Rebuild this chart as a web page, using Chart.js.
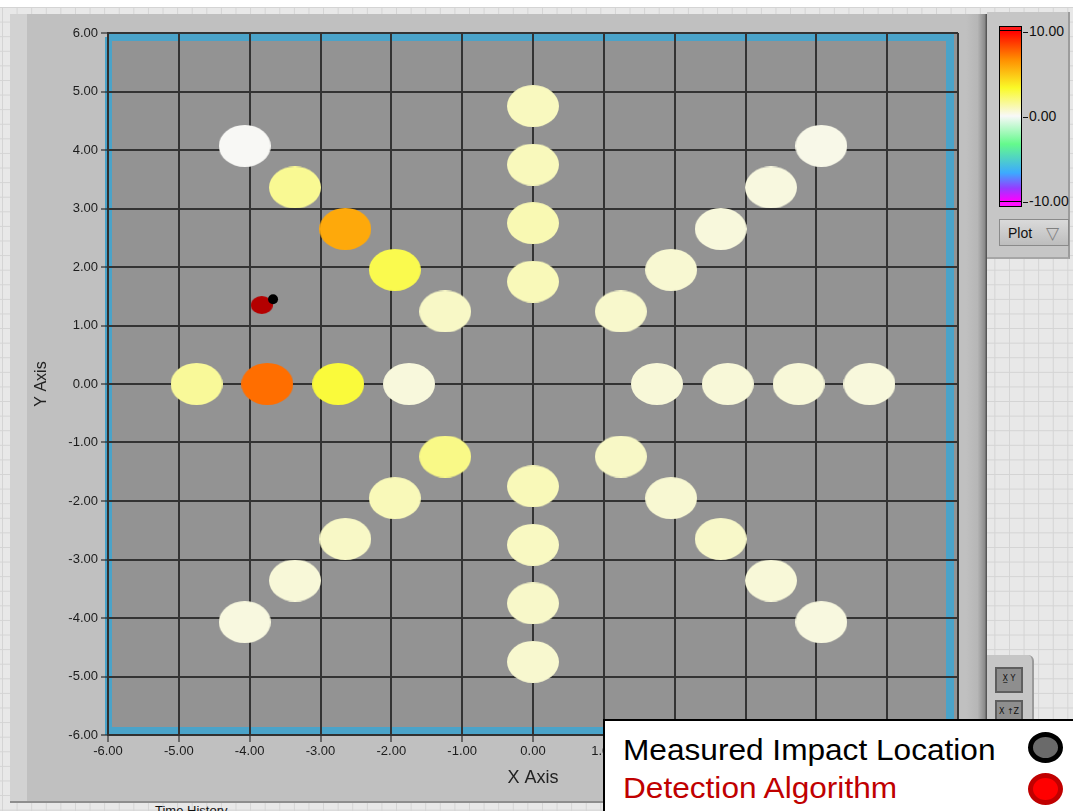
<!DOCTYPE html>
<html>
<head>
<meta charset="utf-8">
<title>Impact location</title>
<script src="https://cdn.jsdelivr.net/npm/chart.js@4.4.1/dist/chart.umd.min.js"></script>
<style>
  html, body { margin: 0; padding: 0; }
  body {
    position: relative; width: 1073px; height: 811px; overflow: hidden;
    background-color: #e8e8e8;
    background-image: linear-gradient(#d4d4d4 1px, transparent 1px),
                      linear-gradient(90deg, #d4d4d4 1px, transparent 1px);
    background-size: 14.6px 14.6px;
    background-position: 2px 7px;
    font-family: "Liberation Sans", Arial, sans-serif;
  }
  .abs { position: absolute; }
  #topWhite { left: 0; top: 0; width: 1073px; height: 7px; background: #fff; }
  #panel { left: 10px; top: 14px; width: 976px; height: 789px; background: #c0c0c0;
           border-bottom: 2px solid #8e8e8e; box-sizing: border-box; }
  #panelStrip { left: 10px; top: 14px; width: 17px; height: 787px; background: #d2d2d2; }
  #panelEdge { left: 966px; top: 14px; width: 21px; height: 789px;
               background: linear-gradient(90deg, #c0c0c0 0%, #b6b6b6 55%, #8c8c8c 88%, #4a4a4a 100%); }
  #scalePanel { left: 987px; top: 12px; width: 83px; height: 247px; background: #c6c6c6;
                border-right: 2px solid #9c9c9c; border-bottom: 2px solid #a6a6a6; box-sizing: border-box; }
  #bar { left: 999px; top: 26px; width: 23px; height: 181px; border: 1px solid #000; box-sizing: border-box; }
  .barLbl { position: absolute; left: 1023px; font-size: 14px; color: #111; line-height: 16px; white-space: nowrap; }
  .barLbl i { display: inline-block; width: 5px; height: 1px; background: #111; vertical-align: middle; margin-right: 1px; }
  #plotBtn { left: 999px; top: 219px; width: 70px; height: 27px; box-sizing: border-box;
             background: linear-gradient(#dadada, #bdbdbd); border: 1px solid #8a8a8a; }
  #plotBtn span { position: absolute; left: 8px; top: 5px; font-size: 14px; color: #111; }
  #plotBtn b { position: absolute; left: 46px; top: 3px; font: 17px "DejaVu Sans"; color: #808080; }
  #btnPanel { left: 987px; top: 655px; width: 47px; height: 70px; background: #c6c6c6;
              border-top-right-radius: 6px; border-right: 2px solid #9a9a9a; box-sizing: border-box; }
  .tool { position: absolute; left: 995px; width: 28px; height: 26px; box-sizing: border-box;
          background: #8e8e8e; border: 2px solid #5e5e5e; font: 8px "DejaVu Sans"; color: #111;
          text-align: center; line-height: 20px; }
  #chartBox { left: 0; top: 0; width: 1073px; height: 811px; }
  #legend { left: 603px; top: 719px; width: 470px; height: 92px; background: #fff;
            border-left: 2px solid #000; border-top: 2px solid #000; box-sizing: border-box; }
  .lgText { position: absolute; left: 18px; font-size: 29px; line-height: 29px; white-space: nowrap;
            transform: scaleX(1.09); transform-origin: 0 0; }
  .lgDot { position: absolute; left: 423px; width: 35px; height: 31px; border-radius: 50%;
           border: 5px solid #000; box-sizing: border-box; }
  #timeLbl { left: 155px; top: 803px; font-size: 13px; color: #111; }
</style>
</head>
<body>
<div id="topWhite" class="abs"></div>
<div id="panel" class="abs"></div>
<div id="panelStrip" class="abs"></div>
<div id="panelEdge" class="abs"></div>
<div id="scalePanel" class="abs"></div>
<div id="bar" class="abs"></div>
<div id="barLabels"></div>
<div id="plotBtn" class="abs"><span>Plot</span><b>▽</b></div>
<div id="btnPanel" class="abs"></div>
<div class="tool" style="top:667px">X&#x0332; Y<br></div>
<div class="tool" style="top:700px;height:22px">X ↑Z</div>
<div id="timeLbl" class="abs">Time History</div>
<div id="chartBox" class="abs"><canvas id="c" width="1073" height="811"></canvas></div>
<div id="legend" class="abs">
  <div class="lgText" style="top:15px;color:#000">Measured Impact Location</div>
  <div class="lgText" style="top:53px;color:#c00000">Detection Algorithm</div>
  <div class="lgDot" style="top:11px;background:#6a6a6a;border-color:#000"></div>
  <div class="lgDot" style="top:52px;height:32px;background:#ff0000;border-color:#c00000"></div>
</div>

<script>
/* ---------- 데이터 ---------- */

// 축 범위
const axisMin = -6;
const axisMax = 6;
const axisStep = 1;

// 센서 위치 (팔 방향별, 안쪽 -> 바깥쪽)
const sensorX = [
  0, 0, 0, 0,                          // up
  1.24, 1.95, 2.65, 3.36, 4.07,        // up-right
  1.75, 2.75, 3.75, 4.75,              // right
  1.24, 1.95, 2.65, 3.36, 4.07,        // down-right
  0, 0, 0, 0,                          // down
  -1.24, -1.95, -2.65, -3.36, -4.07,   // down-left
  -1.75, -2.75, -3.75, -4.75,          // left
  -1.24, -1.95, -2.65, -3.36, -4.07    // up-left
];
const sensorY = [
  1.75, 2.75, 3.75, 4.75,
  1.24, 1.95, 2.65, 3.36, 4.07,
  0, 0, 0, 0,
  -1.24, -1.95, -2.65, -3.36, -4.07,
  -1.75, -2.75, -3.75, -4.75,
  -1.24, -1.95, -2.65, -3.36, -4.07,
  0, 0, 0, 0,
  1.24, 1.95, 2.65, 3.36, 4.07
];
// 센서 세기 (컬러 스케일 -10 ~ 10)
const sensorLevel = [
  1.0, 1.1, 0.95, 0.9,
  0.7, 0.6, 0.45, 0.4, 0.25,
  0.5, 0.5, 0.5, 0.45,
  0.8, 0.6, 0.75, 0.5, 0.4,
  1.0, 0.85, 0.75, 0.65,
  1.8, 1.0, 0.8, 0.5, 0.4,
  0.45, 3.0, 7.4, 1.5,
  0.8, 2.7, 5.8, 1.6, 0.05
];

// 측정 충격 위치 / 검출 결과
const measuredX = [-3.67];
const measuredY = [1.45];
const detectedX = [-3.83];
const detectedY = [1.35];

// 컬러 스케일
const scaleTicks = [10, 0, -10];
const levelStops = [10, 6.7, 3.3, 0, -3.3, -6.7, -8.5, -10];
const levelRGB = [
  [255, 0, 0], [255, 140, 0], [250, 250, 40], [248, 248, 248],
  [100, 250, 140], [60, 170, 255], [150, 60, 255], [255, 0, 255]
];

/* ---------- 헬퍼 ---------- */

function levelColor(v) {
  if (v >= levelStops[0]) return `rgb(${levelRGB[0].join(",")})`;
  for (let i = 0; i < levelStops.length - 1; i++) {
    const a = levelStops[i], b = levelStops[i + 1];
    if (v <= a && v >= b) {
      const t = (a - v) / (a - b);
      const c = levelRGB[i].map((ch, k) => Math.round(ch + (levelRGB[i + 1][k] - ch) * t));
      return `rgb(${c.join(",")})`;
    }
  }
  return `rgb(${levelRGB[levelRGB.length - 1].join(",")})`;
}

// LabVIEW 화면이 가로로 늘어나 있어서 점이 타원으로 보임 -> 캔버스 이미지로 pointStyle
function ellipseImage(w, h, color) {
  const c = document.createElement("canvas");
  c.width = w;
  c.height = h;
  const g = c.getContext("2d");
  g.fillStyle = color;
  g.beginPath();
  g.ellipse(w / 2, h / 2, w / 2, h / 2, 0, 0, Math.PI * 2);
  g.fill();
  return c;
}

const pts = (xs, ys) => xs.map((x, i) => ({ x, y: ys[i] }));

/* ---------- 컬러바 ---------- */

const barY = (v) => 31 + (10 - v) * 8.5; // 페이지 기준 y
(function buildBar() {
  const bar = document.getElementById("bar");
  const top = 27; // 테두리 안쪽
  const stops = levelStops.map((v, i) => `rgb(${levelRGB[i].join(",")}) ${barY(v) - top}px`);
  bar.style.background =
    `linear-gradient(to bottom, #ff1a1a 0px, #ff1a1a ${barY(10) - top - 1}px, #000 ${barY(10) - top - 1}px, #000 ${barY(10) - top}px, ` +
    stops.join(", ") +
    `, #000 ${barY(-10) - top}px, #000 ${barY(-10) - top + 1}px, #ff10ff ${barY(-10) - top + 1}px, #ff10ff 100%)`;
  const wrap = document.getElementById("barLabels");
  scaleTicks.forEach((v) => {
    const d = document.createElement("div");
    d.className = "barLbl";
    d.style.top = barY(v) - 8 + "px";
    d.innerHTML = `<i></i>${v.toFixed(2)}`;
    wrap.appendChild(d);
  });
})();

/* ---------- 차트 ---------- */

const plotFrame = {
  id: "plotFrame",
  beforeDraw(chart) {
    const { ctx, chartArea: a } = chart;
    ctx.save();
    ctx.fillStyle = "#939393";
    ctx.fillRect(a.left, a.top, a.right - a.left, a.bottom - a.top);
    // 파란 선택 테두리
    ctx.fillStyle = "#4aa3c9";
    ctx.fillRect(a.left, a.top, a.right - a.left - 4, 8);
    ctx.fillRect(a.left - 3, a.top + 4, 7, a.bottom - a.top - 4);
    ctx.fillRect(a.left - 3, a.bottom - 8, a.right - a.left - 1, 8);
    ctx.fillRect(a.right - 12, a.top, 8, a.bottom - a.top);
    ctx.restore();
  },
};

const tickFont = { family: "Liberation Sans", size: 13 };

new Chart(document.getElementById("c"), {
  type: "scatter",
  data: {
    datasets: [
      {
        label: "Measured Impact Location",
        data: pts(measuredX, measuredY),
        pointRadius: 5,
        pointBackgroundColor: "#000",
        pointBorderWidth: 0,
        order: 1,
      },
      {
        label: "Detection Algorithm",
        data: pts(detectedX, detectedY),
        pointStyle: ellipseImage(22, 18, "#b40000"),
        pointRadius: 10,
        order: 2,
      },
      {
        label: "Sensors",
        data: pts(sensorX, sensorY),
        pointStyle: sensorLevel.map((v) => ellipseImage(52, 42, levelColor(v))),
        pointRadius: 22,
        order: 3,
      },
    ],
  },
  options: {
    responsive: false,
    animation: false,
    events: [],
    layout: { padding: { left: 0, top: 33, right: 115, bottom: 16 } },
    plugins: { legend: { display: false }, tooltip: { enabled: false } },
    scales: {
      x: {
        type: "linear",
        min: axisMin,
        max: axisMax,
        afterFit: (s) => { s.height = 60; },
        ticks: {
          stepSize: axisStep,
          color: "#1c1c1c",
          font: tickFont,
          padding: 2,
          maxRotation: 0,
          callback: (v) => Number(v).toFixed(2),
        },
        grid: { color: "#333", lineWidth: 2, tickLength: 7, tickColor: "#111", tickWidth: 1 },
        border: { color: "#303030", width: 2 },
        title: {
          display: true,
          text: "X Axis",
          color: "#222",
          font: { family: "Liberation Sans", size: 18 },
          padding: { top: 0, bottom: 6 },
        },
      },
      y: {
        type: "linear",
        min: axisMin,
        max: axisMax,
        afterFit: (s) => { s.width = 108; },
        ticks: {
          stepSize: axisStep,
          color: "#1c1c1c",
          font: tickFont,
          padding: 3,
          callback: (v) => Number(v).toFixed(2),
        },
        grid: { color: "#333", lineWidth: 2, tickLength: 7, tickColor: "#111", tickWidth: 1 },
        border: { color: "#303030", width: 2 },
        title: {
          display: true,
          text: "Y Axis",
          color: "#222",
          font: { family: "Liberation Sans", size: 16 },
          padding: { top: 32, bottom: 0 },
        },
      },
    },
  },
  plugins: [plotFrame],
});
</script>
</body>
</html>
